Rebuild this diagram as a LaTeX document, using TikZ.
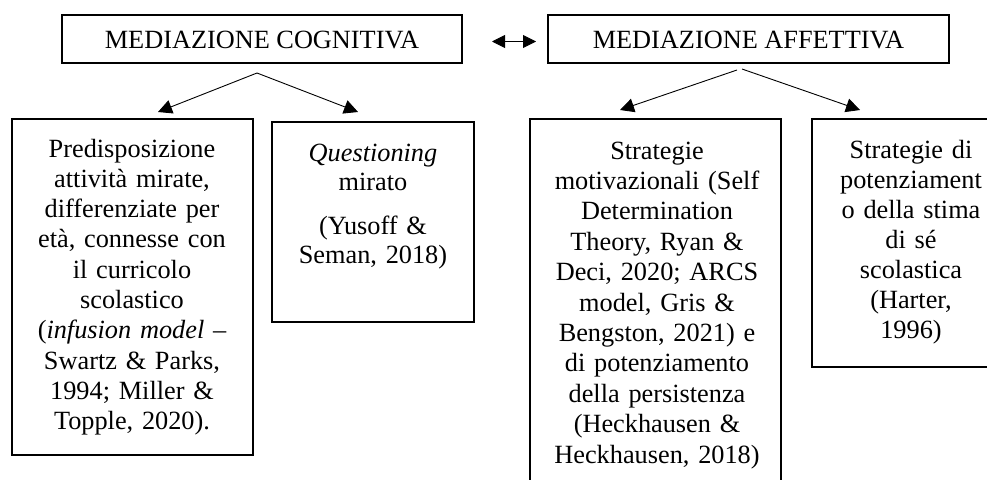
\documentclass[tikz,border=0pt]{standalone}
\usepackage{fontspec}
\setmainfont{Liberation Serif}
\usetikzlibrary{arrows.meta}
\tikzset{
  box/.style={draw, line width=1.2pt, inner sep=0pt},
  txt/.style={anchor=base, inner sep=0pt, align=center, font=\fontsize{26.3}{30.3}\selectfont},
  conn/.style={line width=0.9pt, -{Triangle[length=14pt,width=14pt]}},
  dconn/.style={line width=0.9pt, {Triangle[length=13pt,width=13pt]}-{Triangle[length=13pt,width=13pt]}}
}
\begin{document}
\begin{tikzpicture}[x=1pt,y=-1pt]
\useasboundingbox (0,0) rectangle (987,479);
\clip (0,0) rectangle (987,479);
% top boxes
\node[box, minimum width=400pt, minimum height=48pt] (cog) at (262,39) {};
\node[txt, anchor=center] (cogt) at (262,40) {MEDIAZIONE COGNITIVA};
\node[box, minimum width=401pt, minimum height=48pt] (aff) at (748.5,39) {};
\node[txt, anchor=center] (afft) at (748.5,40) {MEDIAZIONE AFFETTIVA};
% double arrow
\coordinate (dl) at (492,41.5);
\coordinate (dr) at (536,41.5);
\draw[dconn] (dl) -- (dr);
% lower boxes
\node[box, minimum width=241pt, minimum height=336pt] (b1) at (132.5,287) {};
\node[box, minimum width=202pt, minimum height=200pt] (b2) at (373,222) {};
\node[box, minimum width=251pt, minimum height=371pt] (b3) at (655.5,304.5) {};
\node[box, minimum width=186pt, minimum height=248pt] (b4) at (905,243) {};
% texts
\node[txt, text width=235pt] (t1) at (132,157) {Predisposizione\\attività mirate,\\differenziate per\\età, connesse con\\il curricolo\\scolastico\\(\textit{infusion model} –\\Swartz \& Parks,\\1994; Miller \&\\Topple, 2020).};
\node[txt, text width=196pt, font=\fontsize{26.3}{28.5}\selectfont] (t2) at (373,161.7) {\textit{Questioning}\\mirato\\[16pt](Yusoff \&\\Seman, 2018)};
\node[txt, text width=245pt, font=\fontsize{26.3}{30.4}\selectfont] (t3) at (657,159) {Strategie\\motivazionali (Self\\Determination\\Theory, Ryan \&\\Deci, 2020; ARCS\\model, Gris \&\\Bengston, 2021) e\\di potenziamento\\della persistenza\\(Heckhausen \&\\Heckhausen, 2018)};
\node[txt, text width=180pt, font=\fontsize{26.3}{30}\selectfont] (t4) at (911,158) {Strategie di\\potenziament\\o della stima\\di sé\\scolastica\\(Harter,\\1996)};
% arrows
\coordinate (ca) at (257,73);
\coordinate (c1) at (158,112);
\coordinate (c2) at (358,112);
\draw[conn] (ca) -- (c1);
\draw[conn] (ca) -- (c2);
\coordinate (aa1) at (737,70);
\coordinate (aa2) at (742,69);
\coordinate (a1) at (620,110);
\coordinate (a2) at (860,110);
\draw[conn] (aa1) -- (a1);
\draw[conn] (aa2) -- (a2);
\end{tikzpicture}
\end{document}
